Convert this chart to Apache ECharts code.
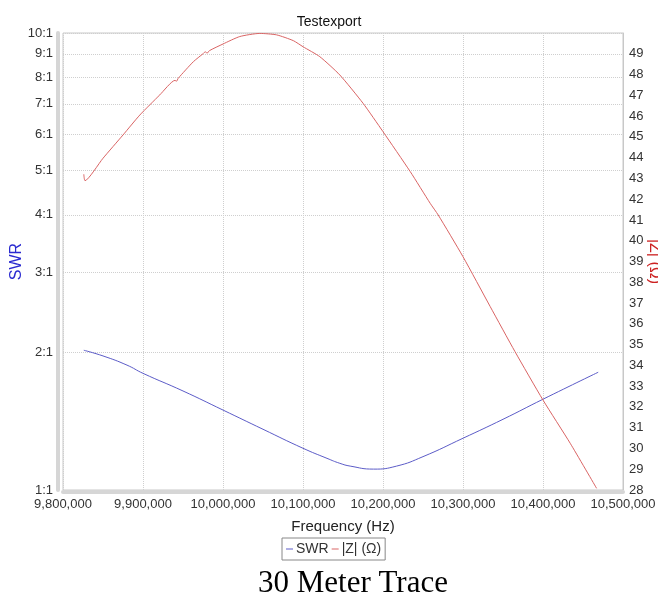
<!DOCTYPE html>
<html><head><meta charset="utf-8">
<script src="https://cdn.jsdelivr.net/npm/echarts@6/dist/echarts.min.js"></script>
<style>html,body{margin:0;padding:0;background:#fff}#c{width:658px;height:597px}</style>
</head><body><div id="c"></div>
<script>
// SWR trace (Hz, ratio)
const swrFreq = [9826000, 9850000, 9880000, 9900000, 9950000, 10000000, 10050000, 10100000, 10130000, 10146000, 10159000, 10188000, 10217000, 10250000, 10300000, 10350000, 10400000, 10469000];
const swrValues = [2.022, 1.965, 1.876, 1.800, 1.647, 1.496, 1.358, 1.234, 1.173, 1.144, 1.128, 1.111, 1.128, 1.183, 1.298, 1.428, 1.580, 1.810];
// |Z| trace (Hz, ohm)
const zFreq = [9826000, 9827500, 9850000, 9875000, 9896000, 9921000, 9940000, 9942000, 9944000, 9963000, 9975000, 9978000, 9980000, 9983000, 10000000, 10021000, 10046000, 10067000, 10088000, 10100000, 10121000, 10146000, 10175000, 10200000, 10234000, 10259000, 10269000, 10300000, 10334000, 10365000, 10400000, 10434000, 10467000];
const zValues = [43.20, 42.89, 43.97, 45.09, 46.05, 47.02, 47.72, 47.68, 47.82, 48.62, 49.00, 49.10, 49.02, 49.15, 49.47, 49.83, 49.98, 49.91, 49.63, 49.34, 48.86, 47.98, 46.62, 45.25, 43.33, 41.80, 41.24, 39.23, 36.83, 34.66, 32.33, 30.25, 28.08];
// axis ticks
const swrTicks = [1, 2, 3, 4, 5, 6, 7, 8, 9, 10];
const freqMin = 9800000, freqMax = 10500000, freqStep = 100000;
const zMin = 28, zMax = 50, zStep = 1;

const sans = 'Liberation Sans, Arial, sans-serif';
const chart = echarts.init(document.getElementById('c'), null, {renderer: 'canvas'});
chart.setOption({
  animation: false,
  backgroundColor: '#fff',
  textStyle: {fontFamily: sans},
  title: [
    {text: 'Testexport', left: 'center', top: 10, textStyle: {fontFamily: sans, fontSize: 14, fontWeight: 'normal', color: '#111'}},
    {text: '30 Meter Trace', left: 253, top: 563, textStyle: {fontFamily: 'Liberation Serif, Times New Roman, serif', fontSize: 31, fontWeight: 'normal', color: '#000'}}
  ],
  legend: {
    left: 282, top: 538, icon: 'rect', itemWidth: 7, itemHeight: 1, itemGap: 3,
    borderColor: '#888', borderWidth: 1, padding: [4, 4],
    textStyle: {fontFamily: sans, fontSize: 14, color: '#333', padding: [0, 0, 0, -2]},
    data: ['SWR', '|Z| (Ω)']
  },
  grid: {left: 63, right: 35, top: 33, bottom: 107, outerBoundsMode: 'none', containLabel: false,
         show: true, borderColor: '#c8c8c8', borderWidth: 1},
  xAxis: {
    type: 'value', min: freqMin, max: freqMax, interval: freqStep, offset: 2,
    name: 'Frequency (Hz)', nameLocation: 'middle', nameGap: 27, nameMoveOverlap: false,
    nameTextStyle: {fontFamily: sans, fontSize: 15, color: '#222'},
    axisLine: {show: true, lineStyle: {color: '#d6d6d6', width: 4}},
    axisTick: {show: false},
    axisLabel: {fontSize: 13, color: '#333', margin: 6, formatter: v => v.toLocaleString('en-US')},
    splitLine: {show: true, lineStyle: {color: '#cfcfcf', type: 'dotted'}}
  },
  yAxis: [
    {
      type: 'log', logBase: 10, min: 1, max: 10, position: 'left', offset: 5,
      name: 'SWR', nameLocation: 'middle', nameGap: 33, nameRotate: 90, nameMoveOverlap: false,
      nameTextStyle: {fontFamily: sans, fontSize: 16, color: '#2a2ad0'},
      axisLine: {show: true, lineStyle: {color: '#d6d6d6', width: 4}},
      axisTick: {show: false, customValues: swrTicks},
      axisLabel: {customValues: swrTicks, fontSize: 13, color: '#333', margin: 5, formatter: v => Math.round(v) + ':1'},
      splitLine: {show: true, lineStyle: {color: '#cfcfcf', type: 'dotted'}}
    },
    {
      type: 'value', min: zMin, max: zMax, interval: zStep, position: 'right',
      name: '|Z| (Ω)', nameLocation: 'middle', nameGap: 23, nameRotate: -90, nameMoveOverlap: false,
      nameTextStyle: {fontFamily: sans, fontSize: 16, color: '#cc2222'},
      axisLine: {show: true, lineStyle: {color: '#c8c8c8', width: 1}},
      axisTick: {show: false},
      axisLabel: {fontSize: 13, color: '#333', margin: 6, showMaxLabel: false},
      splitLine: {show: false}
    }
  ],
  series: [
    {
      name: 'SWR', type: 'line', yAxisIndex: 0, showSymbol: false, smooth: true,
      data: swrFreq.map((f, i) => [f, swrValues[i]]),
      lineStyle: {color: '#5c5cc8', width: 1}, itemStyle: {color: '#5c5cc8'}
    },
    {
      name: '|Z| (Ω)', type: 'line', yAxisIndex: 1, showSymbol: false, smooth: 0.2,
      data: zFreq.map((f, i) => [f, zValues[i]]),
      lineStyle: {color: '#d96464', width: 1}, itemStyle: {color: '#d96464'}
    }
  ]
});
</script></body></html>
